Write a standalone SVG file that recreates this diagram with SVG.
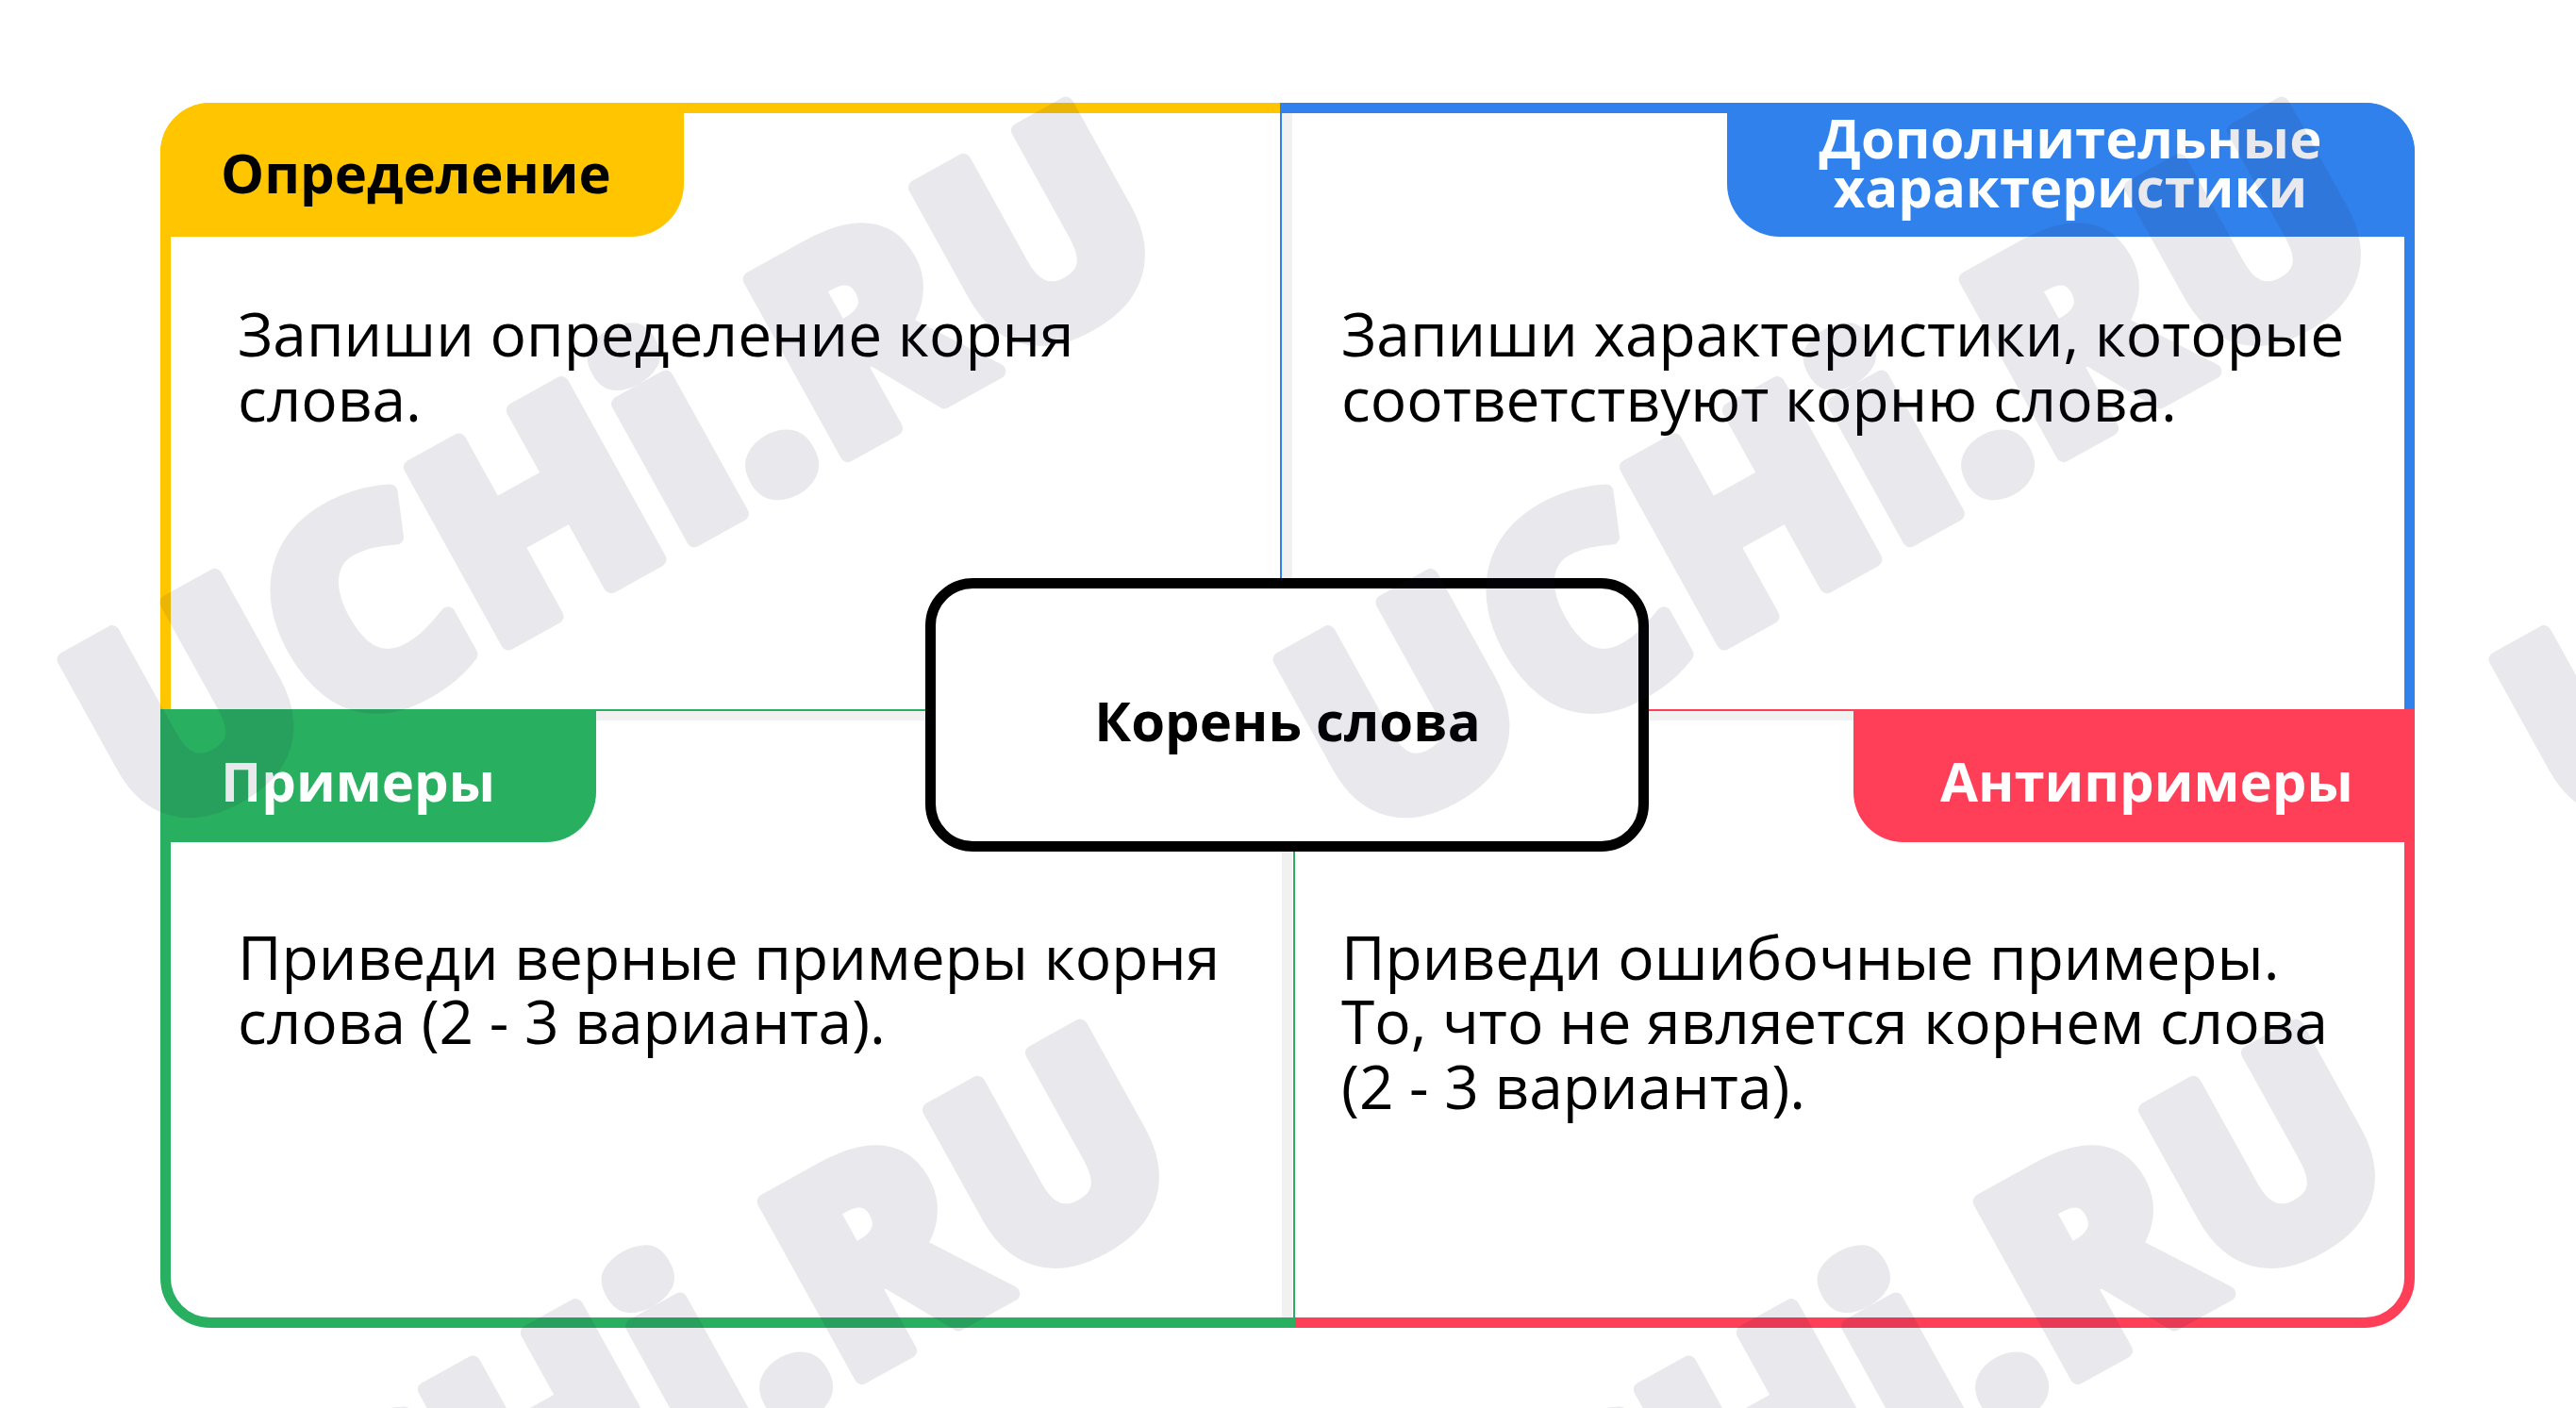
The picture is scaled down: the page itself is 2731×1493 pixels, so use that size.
<svg xmlns="http://www.w3.org/2000/svg" width="2731" height="1493" viewBox="0 0 2731 1493">
<style>
.body{font-family:"Open Sans","Noto Sans","Liberation Sans",sans-serif;font-size:64px;fill:#000}
.tab{font-family:"Open Sans","Noto Sans","Liberation Sans",sans-serif;font-size:58px;font-weight:700}
.frame{fill:none;stroke-width:11}
.shadow{fill:#f1f1f2}
.wm{font-family:"Open Sans","Noto Sans",sans-serif;font-size:298px;font-weight:800;fill:#24244a;stroke:#24244a;stroke-width:16;stroke-linejoin:round;text-anchor:middle}
</style>
<rect width="2731" height="1493" fill="#fff"/>
<g id="shadows">
<rect class="shadow" x="1359" y="120" width="11" height="1277"/>
<rect class="shadow" x="632" y="754" width="727" height="10"/>
<rect class="shadow" x="1373" y="754" width="592" height="10"/>
</g>
<g id="node-definition">
<path class="frame" stroke="#FFC600" d="M175.5,752 V162 A47.5,47.5 0 0 1 223,114.5 H1363"/>
<path fill="#FFC600" d="M170,251 V162 A53,53 0 0 1 223,109 H725 V195 A56,56 0 0 1 669,251 Z"/>
<text class="tab" x="234" y="205" fill="#000">Определение</text>
<text class="body" x="252" y="378">Запиши определение корня</text>
<text class="body" x="252" y="447">слова.</text>
</g>
<g id="node-characteristics">
<path class="frame" stroke="#3181EC" d="M1358,114.5 H2507 A47.5,47.5 0 0 1 2554.5,162 V752"/>
<rect x="1357" y="109" width="2" height="643" fill="#3181EC"/>
<path fill="#3181EC" d="M1831,109 H2507 A53,53 0 0 1 2560,162 V251 H1887 A56,56 0 0 1 1831,195 Z"/>
<text class="tab" x="2195" y="168" fill="#fff" text-anchor="middle">Дополнительные</text>
<text class="tab" x="2195" y="220" fill="#fff" text-anchor="middle">характеристики</text>
<text class="body" x="1422" y="378">Запиши характеристики, которые</text>
<text class="body" x="1422" y="447">соответствуют корню слова.</text>
</g>
<g id="node-examples">
<path class="frame" stroke="#28AF60" d="M175.5,752 V1355 A47.5,47.5 0 0 0 223,1402.5 H1373"/>
<rect x="632" y="752" width="741" height="2" fill="#28AF60"/>
<rect x="1371" y="752" width="2" height="645" fill="#28AF60"/>
<path fill="#28AF60" d="M170,752 H632 V840 A53,53 0 0 1 579,893 H170 Z"/>
<text class="tab" x="234" y="850" fill="#fff">Примеры</text>
<text class="body" x="252" y="1039">Приведи верные примеры корня</text>
<text class="body" x="252" y="1107">слова (2 - 3 варианта).</text>
</g>
<g id="node-antiexamples">
<path class="frame" stroke="#FF3E57" d="M1373,1402.5 H2507 A47.5,47.5 0 0 0 2554.5,1355 V752"/>
<rect x="1373" y="752" width="592" height="2" fill="#FF3E57"/>
<path fill="#FF3E57" d="M1965,752 H2560 V893 H2018 A53,53 0 0 1 1965,840 Z"/>
<text class="tab" x="2057" y="850" fill="#fff">Антипримеры</text>
<text class="body" x="1422" y="1039">Приведи ошибочные примеры.</text>
<text class="body" x="1422" y="1107">То, что не является корнем слова</text>
<text class="body" x="1422" y="1176">(2 - 3 варианта).</text>
</g>
<g id="node-root">
<rect x="986.5" y="618.5" width="756" height="279" rx="45" ry="45" fill="#fff" stroke="#000" stroke-width="11"/>
<text class="tab" x="1365" y="786" fill="#000" text-anchor="middle">Корень слова</text>
</g>
<g id="connectors"/>
<g id="watermark" opacity="0.1">
<text class="wm" transform="translate(652,500) rotate(-29)" y="104">UCHi.RU</text>
<text class="wm" transform="translate(1941,500) rotate(-29)" y="104">UCHi.RU</text>
<text class="wm" transform="translate(3230,500) rotate(-29)" y="104">UCHi.RU</text>
<text class="wm" transform="translate(667,1478) rotate(-29)" y="104">UCHi.RU</text>
<text class="wm" transform="translate(1956,1478) rotate(-29)" y="104">UCHi.RU</text>
</g>
</svg>
